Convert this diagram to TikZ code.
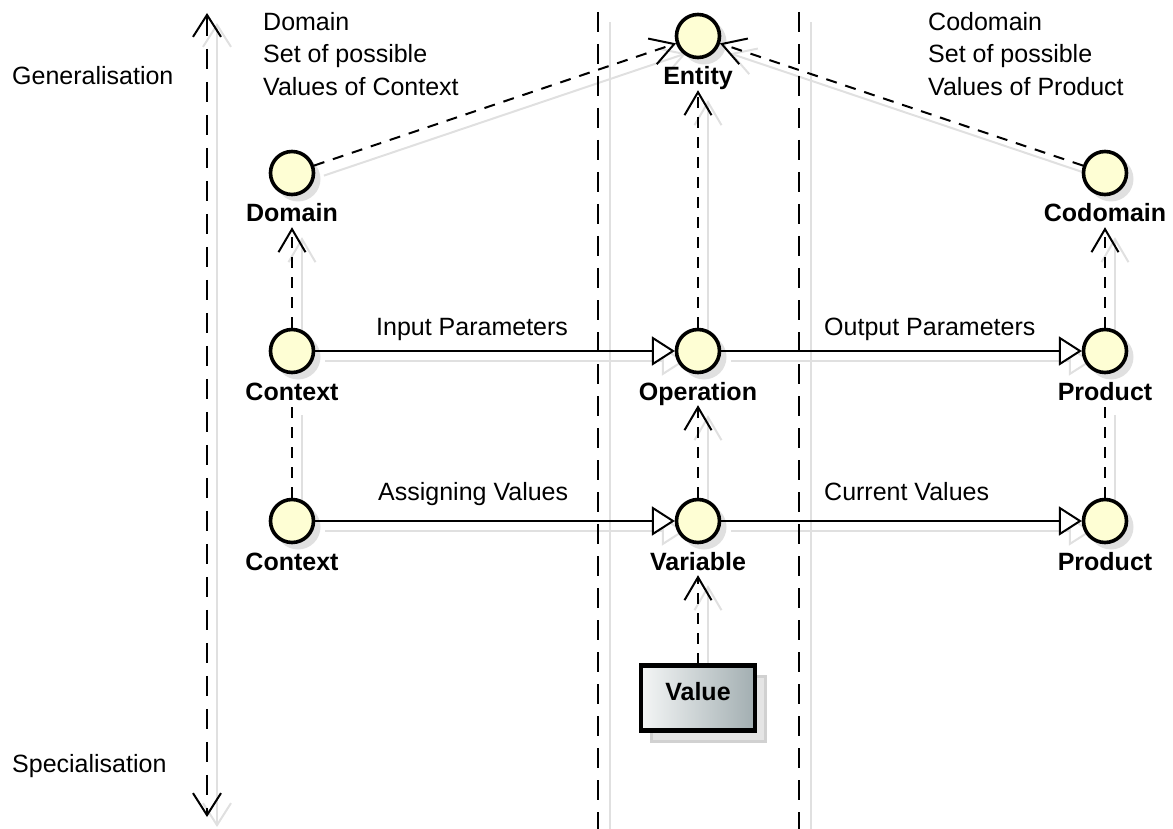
\documentclass[tikz,border=0pt]{standalone}
\usepackage{fontspec}
\setmainfont{Liberation Sans}
\usetikzlibrary{arrows.meta}
\definecolor{circfill}{RGB}{254,254,212}
\definecolor{shd}{RGB}{224,224,224}
\definecolor{valL}{RGB}{244,246,246}
\definecolor{valR}{RGB}{162,174,177}
\pgfdeclarelayer{shadowlayer}
\pgfdeclarelayer{edgelayer}
\pgfsetlayers{shadowlayer,edgelayer,main}
\begin{document}
\begin{tikzpicture}[x=1pt,y=-1pt,
  txt/.style={font=\fontsize{25}{32.5}\selectfont, inner sep=0pt},
  lbl/.style={font=\fontsize{25}{29}\selectfont\bfseries, inner sep=0pt, text height=18pt, text depth=5pt},
  ent/.style={circle, draw=black, line width=3.6pt, fill=circfill, minimum size=43pt, inner sep=0pt, outer sep=1.6pt},
  entshadow/.style={circle, fill=shd, minimum size=45pt, inner sep=0pt},
  vbox/.style={rectangle, draw=black, line width=4.5pt, left color=valL, right color=valR, minimum width=114pt, minimum height=65pt, inner sep=0pt, outer sep=2pt, font=\fontsize{25}{29}\selectfont\bfseries, text height=18pt, text depth=14pt},
  vshadow/.style={rectangle, draw=black!18, fill=black!10, line width=3pt, minimum width=114pt, minimum height=65pt},
  openhead/.style={-{Straight Barb[length=23pt,width=27pt]}},
  dep/.style={draw=black, line width=2pt, dash pattern=on 11pt off 9pt, openhead},
  depplain/.style={draw=black, line width=2pt, dash pattern=on 11pt off 9pt},
  real/.style={draw=black, line width=2pt, -{Triangle[open, fill=white, length=23pt, width=29pt]}},
  sep/.style={draw=black, line width=2pt, dash pattern=on 20pt off 12pt},
  shadowed/.style={draw=shd, solid, line width=2pt, transform canvas={xshift=10pt,yshift=-10pt}},
  axis/.style={draw=black, line width=2pt, dash pattern=on 20pt off 13pt, {Straight Barb[length=22pt,width=28pt]}-{Straight Barb[length=22pt,width=28pt]}},
]
\useasboundingbox (0,0) rectangle (1173,829);

% coordinates
\coordinate (axT) at (207,13);
\coordinate (axB) at (207,817);
\coordinate (s1T) at (598,12);
\coordinate (s1B) at (598,829);
\coordinate (s2T) at (799,12);
\coordinate (s2B) at (799,829);
\coordinate (s1sT) at (610,22);
\coordinate (s1sB) at (610,829);
\coordinate (s2sT) at (811,22);
\coordinate (s2sB) at (811,829);

% node shadows
\begin{pgfonlayer}{shadowlayer}
\foreach \p in {(698,36),(292,173),(1105,173),(292,351),(698,351),(1105,351),(292,521),(698,521),(1105,521)}
  \node[entshadow, shift={(6,6)}] at \p {};
\node[vshadow] at (708,709) {};
\end{pgfonlayer}

% entities
\node[ent] (entity) at (698,36) {};
\node[lbl] (entityL) at (698,78.5) {Entity};
\node[ent] (domain) at (292,173) {};
\node[lbl] (domainL) at (292,215.5) {Domain};
\node[ent] (codomain) at (1105,173) {};
\node[lbl] (codomainL) at (1105,215.5) {Codomain};
\node[ent] (context1) at (292,351) {};
\node[lbl] (context1L) at (292,393.5) {Context};
\node[ent] (operation) at (698,351) {};
\node[lbl] (operationL) at (698,393.5) {Operation};
\node[ent] (product1) at (1105,351) {};
\node[lbl] (product1L) at (1105,393.5) {Product};
\node[ent] (context2) at (292,521) {};
\node[lbl] (context2L) at (292,563.5) {Context};
\node[ent] (variable) at (698,521) {};
\node[lbl] (variableL) at (698,563.5) {Variable};
\node[ent] (product2) at (1105,521) {};
\node[lbl] (product2L) at (1105,563.5) {Product};
\node[vbox] (value) at (698,698) {Value};

% texts
\node[txt, anchor=west] (gen) at (12,76) {Generalisation};
\node[txt, anchor=base west] (spec) at (12,772) {Specialisation};
\node[txt, anchor=north west, align=left] (domtxt) at (263,12) {Domain\\Set of possible\\Values of Context};
\node[txt, anchor=north west, align=left] (codtxt) at (928,12) {Codomain\\Set of possible\\Values of Product};
\node[txt, anchor=base west] (inL) at (376,335) {Input Parameters};
\node[txt, anchor=base west] (outL) at (824,335) {Output Parameters};
\node[txt, anchor=base west] (asL) at (378,500) {Assigning Values};
\node[txt, anchor=base west] (curL) at (824,500) {Current Values};

% shadows of lines
\begin{pgfonlayer}{shadowlayer}
\draw[shadowed, {Straight Barb[length=22pt,width=28pt]}-{Straight Barb[length=22pt,width=28pt]}] (axT) -- (axB);
\draw[draw=shd, line width=2pt] (s1sT) -- (s1sB);
\draw[draw=shd, line width=2pt] (s2sT) -- (s2sB);
\draw[shadowed, openhead] (domain) -- (entity);
\draw[shadowed, openhead] (codomain) -- (entity);
\draw[shadowed, openhead] (operation) -- (entityL.south);
\draw[shadowed, openhead] (context1) -- (domainL.south);
\draw[shadowed, openhead] (product1) -- (codomainL.south);
\draw[shadowed] (context2) -- (context1L.south);
\draw[shadowed] (product2) -- (product1L.south);
\draw[shadowed, openhead] (variable) -- (operationL.south);
\draw[shadowed, openhead] (value) -- (variableL.south);
\draw[shadowed, -{Triangle[open, fill=white, length=23pt, width=29pt]}] (context1) -- (operation);
\draw[shadowed, -{Triangle[open, fill=white, length=23pt, width=29pt]}] (operation) -- (product1);
\draw[shadowed, -{Triangle[open, fill=white, length=23pt, width=29pt]}] (context2) -- (variable);
\draw[shadowed, -{Triangle[open, fill=white, length=23pt, width=29pt]}] (variable) -- (product2);
\end{pgfonlayer}

% lines
\begin{pgfonlayer}{edgelayer}
\draw[axis] (axT) -- (axB);
\draw[sep] (s1T) -- (s1B);
\draw[sep] (s2T) -- (s2B);
\draw[dep] (domain) -- (entity);
\draw[dep] (codomain) -- (entity);
\draw[dep] (operation) -- (entityL.south);
\draw[dep] (context1) -- (domainL.south);
\draw[dep] (product1) -- (codomainL.south);
\draw[depplain] (context2) -- (context1L.south);
\draw[depplain] (product2) -- (product1L.south);
\draw[dep] (variable) -- (operationL.south);
\draw[dep] (value) -- (variableL.south);
\draw[real] (context1) -- (operation);
\draw[real] (operation) -- (product1);
\draw[real] (context2) -- (variable);
\draw[real] (variable) -- (product2);
\end{pgfonlayer}
\end{tikzpicture}
\end{document}
